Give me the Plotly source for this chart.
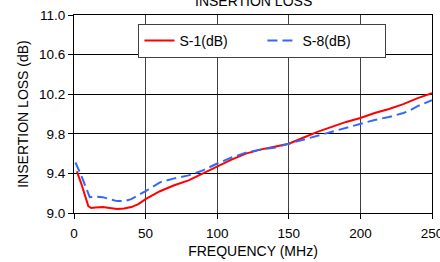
import plotly.graph_objects as go

freq_s1 = [2, 5, 10, 12, 15, 20, 25, 30, 35, 40, 45, 50, 60, 70, 80, 90, 100, 110, 120, 130,
           140, 150, 160, 170, 180, 190, 200, 210, 220, 230, 240, 250]
s1_db = [9.42, 9.30, 9.07, 9.05, 9.055, 9.06, 9.05, 9.04, 9.045, 9.06, 9.09, 9.14, 9.22, 9.28,
         9.33, 9.40, 9.47, 9.54, 9.60, 9.64, 9.67, 9.70, 9.76, 9.82, 9.87, 9.92, 9.96, 10.01,
         10.05, 10.10, 10.16, 10.21]

freq_s8 = [1, 5, 11, 15, 20, 25, 30, 35, 40, 45, 50, 60, 70, 80, 90, 100, 110, 120, 130, 140,
           150, 160, 170, 180, 190, 200, 210, 220, 230, 235, 240, 250]
s8_db = [9.51, 9.38, 9.16, 9.165, 9.16, 9.14, 9.12, 9.12, 9.14, 9.18, 9.22, 9.31, 9.35, 9.38,
         9.43, 9.50, 9.56, 9.61, 9.64, 9.66, 9.70, 9.74, 9.78, 9.82, 9.86, 9.905, 9.94, 9.97,
         10.01, 10.04, 10.08, 10.14]

x_ticks = [0, 50, 100, 150, 200, 250]
y_ticks = [9.0, 9.4, 9.8, 10.2, 10.6, 11.0]

FONT = "Liberation Sans, Arial, sans-serif"

fig = go.Figure()
fig.add_trace(go.Scatter(x=freq_s1, y=s1_db, mode="lines", name="S-1(dB)",
                         line=dict(color="#FF0000", width=2)))
fig.add_trace(go.Scatter(x=freq_s8, y=s8_db, mode="lines", name="S-8(dB)",
                         line=dict(color="#3366FF", width=2, dash="10px,5px")))

fig.update_layout(
    width=440, height=262,
    margin=dict(l=74, r=8, t=15, b=49),
    paper_bgcolor="white", plot_bgcolor="white",
    font=dict(family=FONT, size=14, color="#000000"),
    showlegend=True,
    legend=dict(orientation="h", x=0.18, y=0.955, xanchor="left", yanchor="top",
                bgcolor="white", bordercolor="#404040", borderwidth=1,
                font=dict(family=FONT, size=14), entrywidth=78, entrywidthmode="pixels"),
    annotations=[dict(text="INSERTION LOSS", x=0.5, y=1.0707, xref="paper", yref="paper",
                      xanchor="center", yanchor="middle", showarrow=False,
                      font=dict(family=FONT, size=14))],
)
fig.update_xaxes(range=[0, 250], tickvals=x_ticks, ticks="outside", ticklen=5,
                 tickcolor="black", showline=True, linecolor="black", linewidth=1,
                 mirror=True, showgrid=True, gridcolor="#404040", gridwidth=1,
                 zeroline=False, automargin=False, ticklabeloverflow="allow",
                 ticklabelstandoff=3,
                 title=dict(text="FREQUENCY (MHz)", standoff=5, font=dict(size=14)),
                 tickfont=dict(size=13.5))
fig.update_yaxes(range=[9.0, 11.0], tickvals=y_ticks, ticktext=[f"{v:.1f}" for v in y_ticks],
                 ticks="outside", ticklen=5, tickcolor="black", showline=True,
                 linecolor="black", linewidth=1, mirror=True, showgrid=True,
                 gridcolor="#000000", gridwidth=1, zeroline=False, automargin=False,
                 title=dict(text="INSERTION LOSS (dB)", standoff=7, font=dict(size=14)),
                 tickfont=dict(size=13.5))

fig.write_html("out.html", config={"displayModeBar": False},
               post_script="document.body.style.margin='0';")
